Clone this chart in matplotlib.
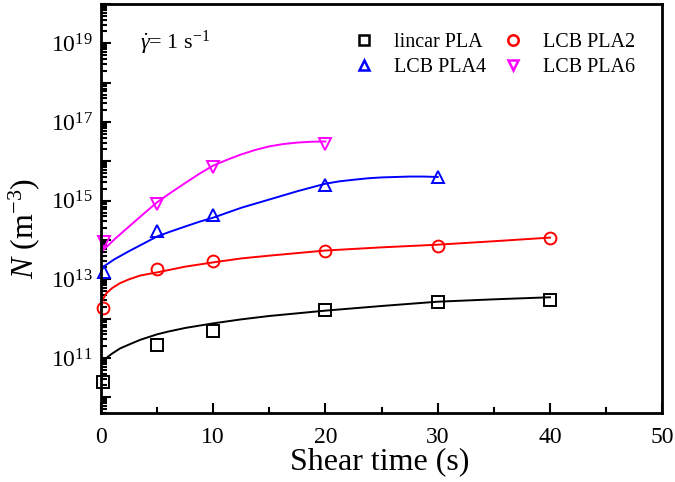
import matplotlib
matplotlib.use("Agg")
import matplotlib.pyplot as plt
from matplotlib.ticker import LogLocator, FuncFormatter, NullFormatter, MultipleLocator
from matplotlib.lines import Line2D
import math

plt.rcParams['font.family'] = ['Liberation Serif', 'DejaVu Serif']
plt.rcParams['mathtext.fontset'] = 'custom'
plt.rcParams['mathtext.rm'] = 'Liberation Serif'
plt.rcParams['mathtext.it'] = 'Liberation Serif:italic'

##########################################################
# data
##########################################################
labels = ['lincar PLA', 'LCB PLA2', 'LCB PLA4', 'LCB PLA6']
colors = ['black', 'red', 'blue', 'magenta']
markers = ['s', 'o', '^', 'v']

# measured points
t_lin = [0.2, 5, 10, 20, 30, 40]
N_lin = [2.4e10, 2.2e11, 4.9e11, 1.7e12, 2.7e12, 3.0e12]
t_pla2 = [0.2, 5, 10, 20, 30, 40]
N_pla2 = [1.9e12, 1.8e13, 2.9e13, 5.4e13, 6.9e13, 1.1e14]
t_pla4 = [0.25, 5, 10, 20, 30]
N_pla4 = [1.5e13, 1.7e14, 4.3e14, 2.5e15, 4.1e15]
t_pla6 = [0.3, 5, 10, 20]
N_pla6 = [8.7e13, 8.3e14, 7.1e15, 2.8e16]

# fitted curves
tf_lin = [0.4, 0.6, 1, 1.7, 2.5, 3.5, 5, 6, 7.5, 10, 12.5, 15, 20, 25, 30, 35, 40]
Nf_lin = [8.9e10, 1.07e11, 1.3e11, 1.75e11, 2.2e11, 2.9e11, 4.0e11, 4.7e11, 5.8e11,
          7.6e11, 9.6e11, 1.17e12, 1.6e12, 2.1e12, 2.7e12, 3.1e12, 3.5e12]
tf_pla2 = [0.1, 0.5, 1, 1.7, 2.5, 3.5, 5, 7.5, 10, 12.5, 15, 20, 25, 30, 35, 40]
Nf_pla2 = [2.9e12, 4.5e12, 6.0e12, 8.0e12, 1.0e13, 1.25e13, 1.5e13, 2.1e13, 2.7e13,
           3.4e13, 4.0e13, 5.4e13, 6.5e13, 7.6e13, 9.3e13, 1.15e14]
tf_pla4 = [0.1, 1.25, 2.5, 3.75, 5, 6.25, 7.5, 8.75, 10, 12.5, 15, 17.5, 20,
           21.25, 22.5, 23.75, 25, 26.25, 27.5, 28.75, 30]
Nf_pla4 = [2.0e13, 3.3e13, 5.2e13, 8.0e13, 1.23e14, 1.66e14, 2.2e14, 2.9e14, 3.7e14,
           6.6e14, 1.07e15, 1.74e15, 2.7e15, 3.1e15, 3.4e15, 3.7e15, 3.9e15,
           4.0e15, 4.1e15, 4.1e15, 4.0e15]
tf_pla6 = [0.1, 1.25, 2.5, 3.75, 5, 6.25, 7.5, 8.75, 10, 11.25, 12.5, 13.75, 15,
           16.25, 17.5, 18.75, 20]
Nf_pla6 = [5.2e13, 1.07e14, 2.2e14, 4.5e14, 9.1e14, 1.62e15, 2.8e15, 4.8e15, 7.8e15,
           1.1e16, 1.5e16, 1.95e16, 2.4e16, 2.75e16, 3.0e16, 3.15e16, 3.2e16]

pts = [(t_lin, N_lin), (t_pla2, N_pla2), (t_pla4, N_pla4), (t_pla6, N_pla6)]
fits = [(tf_lin, Nf_lin), (tf_pla2, Nf_pla2), (tf_pla4, Nf_pla4), (tf_pla6, Nf_pla6)]

##########################################################
# plot
##########################################################
fig = plt.figure(figsize=(6.75, 4.82), dpi=100)
ax = fig.add_axes([0.1496, 0.1432, 0.8314, 0.8485])

for (tf, Nf), c in zip(fits, colors):
    ax.plot(tf, Nf, '-', color=c, lw=1.4)

handles = []
for (t, N), c, m, lab in zip(pts, colors, markers, labels):
    ax.plot(t, N, linestyle='none', marker=m, ms=8.5, mfc='none',
            mec=c, mew=1.4, clip_on=False)
    handles.append(Line2D([], [], linestyle='none', marker=m, ms=7.5,
                          mfc='none', mec=c, mew=1.8, label=lab))

ax.set_yscale('log')
ax.set_xlim(0, 50)
ax.set_ylim(4e9, 1e20)

ax.xaxis.set_major_locator(MultipleLocator(10))
ax.xaxis.set_minor_locator(MultipleLocator(5))
ax.yaxis.set_major_locator(LogLocator(base=10, subs=(1.0,), numticks=30))
ax.yaxis.set_minor_locator(LogLocator(base=10, subs=range(2, 10), numticks=30))
ax.yaxis.set_minor_formatter(NullFormatter())

def ylab(v, pos):
    e = int(round(math.log10(v)))
    return r'$10^{%d}$' % e if e % 2 == 1 else ''

ax.yaxis.set_major_formatter(FuncFormatter(ylab))

ax.tick_params(which='both', direction='in', top=False, right=False,
               labelsize=17, width=1.5)
ax.tick_params(which='major', length=7)
ax.tick_params(which='minor', length=4)
ax.tick_params(axis='x', pad=10)
ax.tick_params(axis='y', pad=6)
for s in ax.spines.values():
    s.set_linewidth(2)

ax.set_xlabel('Shear time (s)', fontsize=23)
ax.xaxis.set_label_coords(0.497, -0.083)
ax.set_ylabel(r'$N$ (m$^{-3}$)', fontsize=23)
ax.yaxis.set_label_coords(-0.105, 0.452)

ax.text(0.07, 0.905, r'$\dot{\gamma}$= 1 s$^{-1}$', transform=ax.transAxes,
        fontsize=16, va='center', ha='left')

# legend rows: lincar / PLA2, PLA4 / PLA6 (matplotlib fills by column)
order = [0, 2, 1, 3]
ax.legend(handles=[handles[i] for i in order], ncol=2, frameon=False,
          loc='upper left', bbox_to_anchor=(0.415, 0.973),
          fontsize=14.5, handletextpad=0.9, columnspacing=0.7,
          labelspacing=0.3, handlelength=1.2)

fig.savefig('out.png', dpi=100)
